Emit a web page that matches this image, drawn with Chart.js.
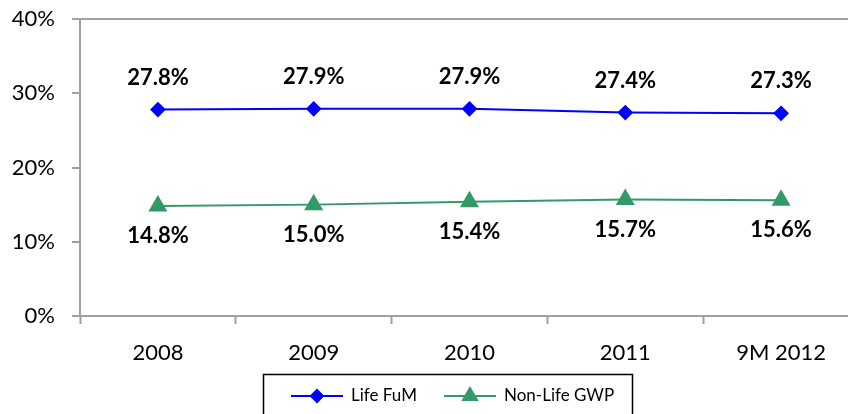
<!DOCTYPE html>
<html>
<head>
<meta charset="utf-8">
<script src="https://cdn.jsdelivr.net/npm/chart.js@4"></script>
<style>
  html, body { margin: 0; padding: 0; overflow: hidden; background: #fff; }
  #wrap { width: 870px; height: 414px; }
</style>
</head>
<body>
<div id="wrap"><canvas id="chart"></canvas></div>
<script>
const categories = ['2008', '2009', '2010', '2011', '9M 2012'];
const lifeFum = [27.8, 27.9, 27.9, 27.4, 27.3];
const nonLifeGwp = [14.8, 15.0, 15.4, 15.7, 15.6];
const yTicks = [0, 10, 20, 30, 40];

const axisGray = '#a0a0a0';
const blue = '#0000ff';
const green = '#339966';

// value labels: above for Life, below for Non-Life
const valueLabels = {
    id: 'valueLabels',
    afterDatasetsDraw(chart) {
        const ctx = chart.ctx;
        ctx.save();
        ctx.font = 'bold 22px Lato';
        ctx.fillStyle = '#000';
        ctx.textAlign = 'center';
        ctx.textBaseline = 'middle';
        chart.data.datasets.forEach((ds, i) => {
            const meta = chart.getDatasetMeta(i);
            const shift = i === 0 ? -32 : 30;
            meta.data.forEach((pt, j) => {
                ctx.fillText(ds.data[j].toFixed(1) + '%', pt.x, pt.y + shift);
            });
        });
        ctx.restore();
    }
};

// boxed legend at the bottom, line + marker samples
const boxLegend = {
    id: 'boxLegend',
    afterDraw(chart) {
        const ctx = chart.ctx;
        ctx.save();
        ctx.strokeStyle = '#000';
        ctx.lineWidth = 1.5;
        ctx.strokeRect(263.5, 374.5, 369, 50);
        const items = [
            {x: 291, ds: chart.data.datasets[0]},
            {x: 444, ds: chart.data.datasets[1]}
        ];
        const y = 396;
        items.forEach(it => {
            ctx.strokeStyle = it.ds.borderColor;
            ctx.lineWidth = 2;
            ctx.beginPath();
            ctx.moveTo(it.x, y);
            ctx.lineTo(it.x + 52, y);
            ctx.stroke();
            Chart.helpers.drawPoint(ctx, {
                pointStyle: it.ds.pointStyle,
                radius: it.ds.pointStyle === 'triangle' ? 8 : 6,
                borderWidth: 1
            }, it.x + 26, y);
            ctx.fillStyle = it.ds.borderColor;
            ctx.fill();
            ctx.fillStyle = '#000';
            ctx.font = '17px Lato';
            ctx.textAlign = 'left';
            ctx.textBaseline = 'middle';
            ctx.fillText(it.ds.label, it.x + 60, y);
        });
        ctx.restore();
    }
};

new Chart(document.getElementById('chart'), {
    type: 'line',
    data: {
        labels: categories,
        datasets: [{
            label: 'Life FuM',
            data: lifeFum,
            borderColor: blue,
            backgroundColor: blue,
            borderWidth: 2,
            pointStyle: 'rectRot',
            pointRadius: 6.5,
            pointHoverRadius: 6.5,
            tension: 0
        }, {
            label: 'Non-Life GWP',
            data: nonLifeGwp,
            borderColor: green,
            backgroundColor: green,
            borderWidth: 2,
            pointStyle: 'triangle',
            pointRadius: 9,
            pointHoverRadius: 9,
            tension: 0
        }]
    },
    options: {
        responsive: true,
        maintainAspectRatio: false,
        animation: false,
        layout: {padding: {top: 19, right: 10, bottom: 38, left: 0}},
        plugins: {
            legend: {display: false},
            tooltip: {enabled: false}
        },
        scales: {
            x: {
                offset: true,
                grid: {
                    offset: true,
                    color: 'transparent',
                    tickColor: axisGray,
                    tickLength: 8,
                    tickWidth: 2
                },
                border: {color: axisGray, width: 2},
                ticks: {
                    color: '#000',
                    font: {family: 'Lato', size: 22},
                    padding: 16,
                    maxRotation: 0
                },
                afterFit: (scale) => {
                    scale.height = 60;
                    scale.paddingLeft = 0;
                    scale.paddingRight = 0;
                }
            },
            y: {
                min: 0,
                max: 40,
                afterBuildTicks: (scale) => { scale.ticks = yTicks.map(v => ({value: v})); },
                grid: {
                    color: (c) => c.tick && c.tick.value === 40 ? axisGray : 'transparent',
                    lineWidth: 2,
                    tickColor: axisGray,
                    tickLength: 8,
                    tickWidth: 2
                },
                border: {color: axisGray, width: 2},
                ticks: {
                    color: '#000',
                    font: {family: 'Lato', size: 22},
                    padding: 17,
                    callback: (v) => v + '%'
                },
                afterFit: (scale) => {
                    scale.width = 80;
                    scale.paddingTop = 0;
                    scale.paddingBottom = 0;
                }
            }
        }
    },
    plugins: [valueLabels, boxLegend]
});
</script>
</body>
</html>
